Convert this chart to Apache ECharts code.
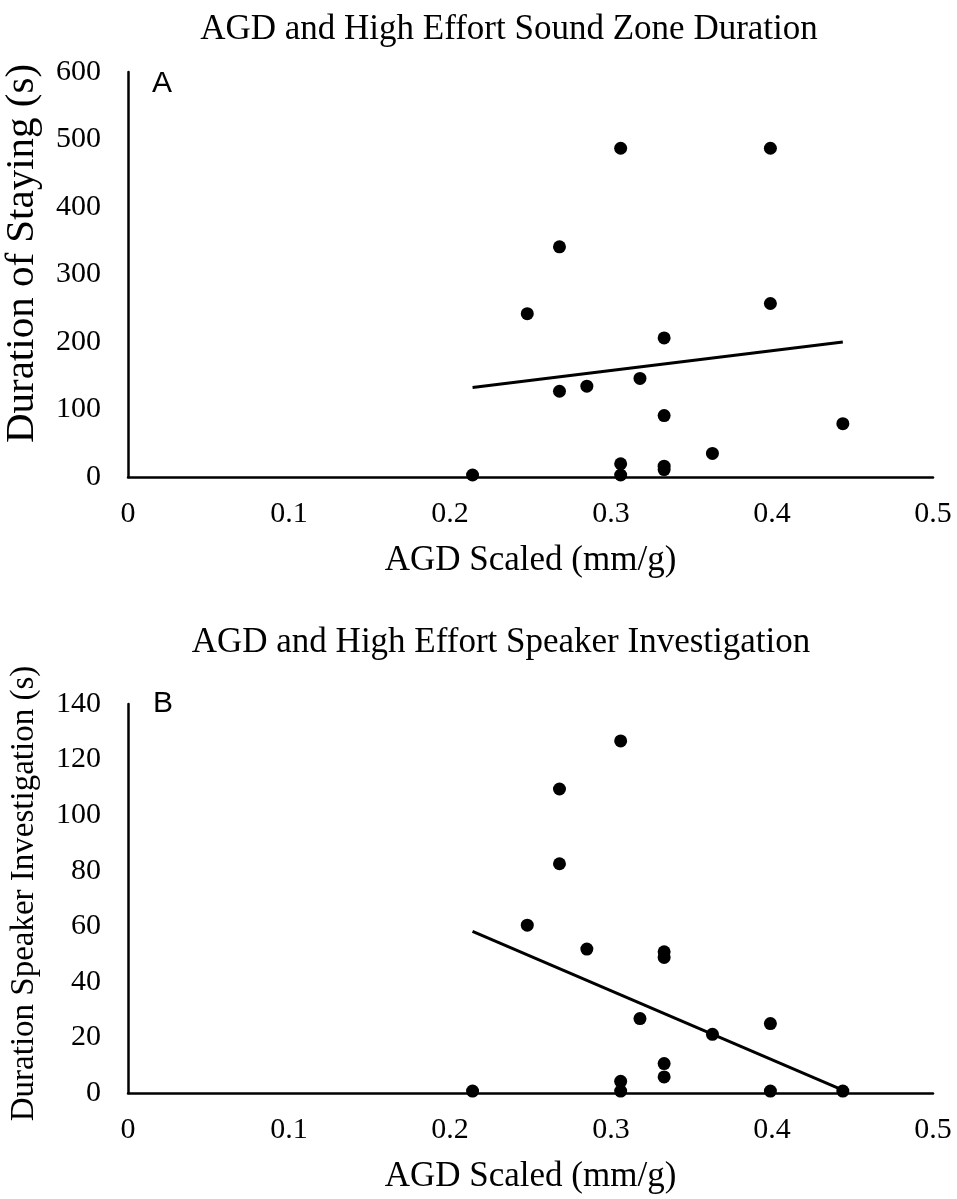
<!DOCTYPE html>
<html>
<head>
<meta charset="utf-8">
<script src="https://cdn.jsdelivr.net/npm/echarts@6/dist/echarts.min.js"></script>
<style>
html,body{margin:0;padding:0;background:#fff;}
#chart{width:957px;height:1199px;}
</style>
</head>
<body>
<div id="chart"></div>
<script>
// Panel A: AGD vs duration of staying in high effort sound zone
var xA = [0.214, 0.248, 0.268, 0.268, 0.285, 0.306, 0.306, 0.306, 0.318, 0.333, 0.333, 0.333, 0.333, 0.363, 0.399, 0.399, 0.444];
var yA = [3, 242, 341, 127, 134.5, 487, 19.6, 3, 146, 206, 91, 16, 11, 35, 487, 257, 79];
// Panel A linear trendline endpoints
var trendAX = [0.214, 0.444];
var trendAY = [132.5, 200];

// Panel B: AGD vs duration of speaker investigation
var xB = [0.214, 0.248, 0.268, 0.268, 0.285, 0.306, 0.306, 0.306, 0.318, 0.333, 0.333, 0.333, 0.333, 0.363, 0.399, 0.399, 0.444];
var yB = [0.7, 60.4, 109.4, 82.5, 51.8, 126.7, 4.2, 0.7, 26.8, 50.8, 48.8, 10.6, 5.8, 21.1, 25, 0.7, 0.7];
var trendBX = [0.214, 0.444];
var trendBY = [58.2, 1];

var titleA = 'AGD and High Effort Sound Zone Duration';
var titleB = 'AGD and High Effort Speaker Investigation';
var xName = 'AGD Scaled (mm/g)';
var yNameA = 'Duration of Staying (s)';
var yNameB = 'Duration Speaker Investigation (s)';

function zip(xs, ys){ return xs.map(function(x,i){ return [x, ys[i]]; }); }

var serif = 'Liberation Serif';
var axisLine = {show:true, lineStyle:{color:'#000', width:2.5}};

function xAxis(gi){
  return {
    type:'value', gridIndex:gi, min:0, max:0.5, interval:0.1,
    name:xName, nameLocation:'middle', nameGap:66,
    nameTextStyle:{fontFamily:serif, fontSize:35, color:'#000'},
    axisLine:axisLine, axisTick:{show:false}, splitLine:{show:false},
    axisLabel:{fontFamily:serif, fontSize:30, color:'#000', margin:22}
  };
}
function yAxis(gi, max, interval, name, size, gap, pad){
  return {
    type:'value', gridIndex:gi, min:0, max:max, interval:interval,
    name:name, nameLocation:'middle', nameGap:gap,
    nameTextStyle:{fontFamily:serif, fontSize:size, color:'#000', padding:pad},
    axisLine:axisLine, axisTick:{show:false}, splitLine:{show:false},
    axisLabel:{fontFamily:serif, fontSize:30, color:'#000', margin:27}
  };
}

var chart = echarts.init(document.getElementById('chart'));
chart.setOption({
  animation:false,
  backgroundColor:'#fff',
  title:[
    {text:titleA, left:509, top:12, textAlign:'center', padding:0,
     textStyle:{fontFamily:serif, fontSize:35, fontWeight:'normal', color:'#000'}},
    {text:titleB, left:501, top:625, textAlign:'center', padding:0,
     textStyle:{fontFamily:serif, fontSize:35, fontWeight:'normal', color:'#000'}}
  ],
  grid:[
    {left:128, right:24, top:72, height:405, outerBoundsMode:'none', containLabel:false},
    {left:128, right:24, top:704, height:389, outerBoundsMode:'none', containLabel:false}
  ],
  xAxis:[xAxis(0), xAxis(1)],
  yAxis:[
    yAxis(0, 600, 100, yNameA, 41, 85, [0,0,0,42]),
    yAxis(1, 140, 20, yNameB, 33, 87, [0,0,0,10])
  ],
  graphic:[
    {type:'text', left:152, top:69, style:{text:'A', font:'30px "Liberation Sans"', fill:'#000'}},
    {type:'text', left:153, top:689, style:{text:'B', font:'30px "Liberation Sans"', fill:'#000'}}
  ],
  series:[
    {type:'scatter', xAxisIndex:0, yAxisIndex:0, data:zip(xA, yA), symbolSize:13,
     itemStyle:{color:'#000', opacity:1}, z:3},
    {type:'line', xAxisIndex:0, yAxisIndex:0, data:zip(trendAX, trendAY), showSymbol:false,
     lineStyle:{color:'#000', width:3}, z:2},
    {type:'scatter', xAxisIndex:1, yAxisIndex:1, data:zip(xB, yB), symbolSize:13,
     itemStyle:{color:'#000', opacity:1}, z:3},
    {type:'line', xAxisIndex:1, yAxisIndex:1, data:zip(trendBX, trendBY), showSymbol:false,
     lineStyle:{color:'#000', width:3}, z:2}
  ]
});
</script>
</body>
</html>
